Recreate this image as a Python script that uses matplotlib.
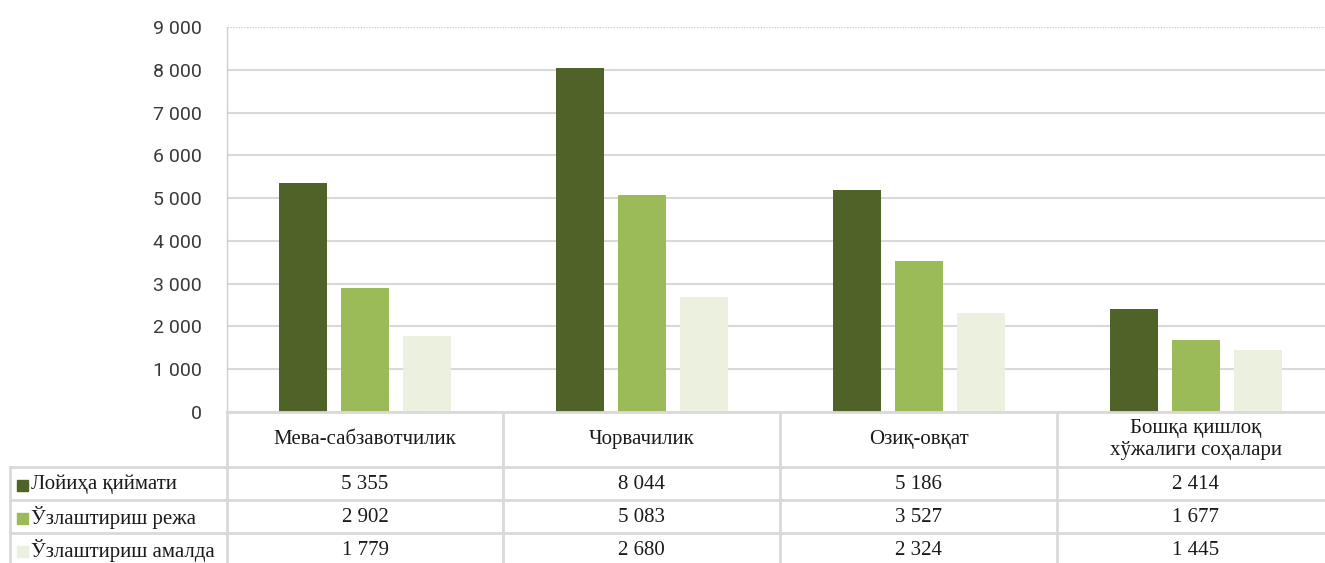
import matplotlib
matplotlib.use("Agg")
import matplotlib.pyplot as plt
from matplotlib.patches import Rectangle
from matplotlib.lines import Line2D
from matplotlib.ticker import FuncFormatter

categories = ["Мева-сабзавотчилик", "Чорвачилик", "Озиқ-овқат", "Бошқа қишлоқ\nхўжалиги соҳалари"]
series_names = ["Лойиҳа қиймати", "Ўзлаштириш режа", "Ўзлаштириш амалда"]
lojiha = [5355, 8044, 5186, 2414]
reja = [2902, 5083, 3527, 1677]
amalda = [1779, 2680, 2324, 1445]
yticks = [0, 1000, 2000, 3000, 4000, 5000, 6000, 7000, 8000, 9000]

colors = ["#4F6228", "#9BBB59", "#EBF1DE"]
series = [lojiha, reja, amalda]

W, H = 1325, 563
fig = plt.figure(figsize=(W / 100, H / 100), dpi=100)

def fx(px):
    return px / W

def fy(py):
    return 1 - py / H

ax_left, ax_right, ax_top, ax_bot = 227, 1334, 27, 412
ax = fig.add_axes([fx(ax_left), fy(ax_bot), (ax_right - ax_left) / W, (ax_bot - ax_top) / H])

offsets = [-0.224, 0.0, 0.224]
width = 0.173
for s, vals in enumerate(series):
    ax.bar([i + offsets[s] for i in range(len(categories))], vals, width=width,
           color=colors[s], zorder=3, linewidth=0)

ax.set_xlim(-0.5, len(categories) - 0.5)
ax.set_ylim(0, 9000)
ax.set_yticks(yticks)
ax.yaxis.set_major_formatter(FuncFormatter(lambda v, p: f"{int(v):,}".replace(",", " ")))
ax.set_xticks([])
ax.grid(axis="y", color="#D9D9D9", linewidth=1.5, zorder=0)
gl = ax.get_ygridlines()
gl[-1].set_linestyle((0, (1, 1)))
gl[-1].set_color("#CFCFCF")
gl[-1].set_linewidth(1)
for side in ["top", "right", "bottom"]:
    ax.spines[side].set_visible(False)
ax.spines["left"].set_color("#CFCFCF")
ax.spines["left"].set_linestyle((0, (1, 1)))
ax.spines["left"].set_linewidth(1)
ax.tick_params(axis="y", length=0, pad=18, labelsize=14, labelcolor="#3a3a3a")
for lab in ax.get_yticklabels():
    lab.set_fontfamily(["Roboto", "DejaVu Sans"])

# Table
line_c = "#D9D9D9"
lw = 2
col_edges = [227, 503, 780, 1057, 1334]
row_edges = [412, 467, 500, 533, 566]
table_left = 10

def hline(x0, x1, y):
    fig.add_artist(Line2D([fx(x0), fx(x1)], [fy(y), fy(y)], color=line_c, lw=lw))

def vline(x, y0, y1):
    fig.add_artist(Line2D([fx(x), fx(x)], [fy(y0), fy(y1)], color=line_c, lw=lw))

hline(col_edges[0], col_edges[-1], row_edges[0])
for y in row_edges[1:4]:
    hline(table_left, col_edges[-1], y)
for x in col_edges:
    vline(x, row_edges[0], H + 5)
vline(table_left, row_edges[1], H + 5)

serif = ["Liberation Serif", "DejaVu Serif"]
fs = 15
for i, cat in enumerate(categories):
    cx = (col_edges[i] + col_edges[i + 1]) / 2
    cy = (row_edges[0] + row_edges[1]) / 2
    fig.text(fx(cx), fy(cy), cat, ha="center", va="center", fontsize=fs,
             family=serif, color="#1a1a1a", linespacing=1.2)

for s, vals in enumerate(series):
    cy = (row_edges[s + 1] + row_edges[s + 2]) / 2 + 1
    for i, v in enumerate(vals):
        cx = (col_edges[i] + col_edges[i + 1]) / 2
        fig.text(fx(cx), fy(cy), f"{v:,}".replace(",", " "), ha="center", va="center",
                 fontsize=fs, family=serif, color="#1a1a1a")
    fig.add_artist(Rectangle((fx(17), fy(cy + 6)), 11 / W, 11 / H, color=colors[s],
                             transform=fig.transFigure))
    fig.text(fx(31), fy(cy), series_names[s], ha="left", va="center", fontsize=fs,
             family=serif, color="#1a1a1a")

fig.savefig("out.png", dpi=100)
